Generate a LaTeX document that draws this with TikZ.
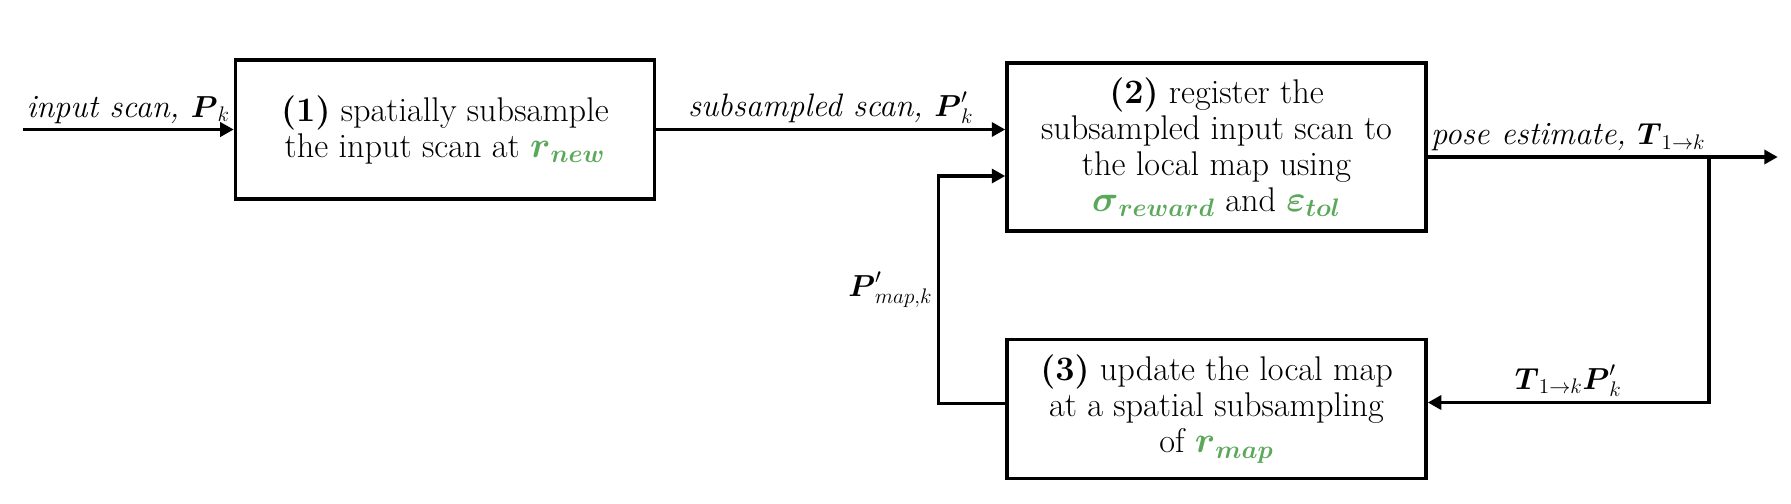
\documentclass[tikz,border=0pt]{standalone}
\usepackage{amsmath}
\usepackage{amssymb}
\usetikzlibrary{arrows.meta, positioning, calc}
\definecolor{param_green}{HTML}{5BA85B}
\colorlet{paramgreen}{param_green}
\newcommand{\prm}[1]{\textcolor{paramgreen}{\boldsymbol{#1}}}
\tikzset{
  stepbox/.style={rectangle,draw=black,line width=2pt,align=center,minimum width=8.38cm,minimum height=2.78cm,inner sep=0pt,font=\fontsize{19.5}{20.5}\selectfont},
  flow/.style={line width=2pt,-{Triangle[length=0.27cm,width=0.28cm]},black,font=\itshape\fontsize{18.5}{21}\selectfont},
  flowlabel/.style={inner sep=.08cm},
}

\begin{document}
\begin{tikzpicture}
	    \useasboundingbox (0,0) rectangle (35.82,-10.06);
	    \node[stepbox] (box1) at (8.90,-2.59) {\textbf{(1)} spatially subsample\\the input scan at $\prm{r}_{\prm{new}}$};
	    \node[stepbox,minimum height=3.36cm,right=6.98cm of box1.north east,anchor=north west,yshift=-0.06cm] (box2) {\textbf{(2)} register the\\subsampled input scan to\\the local map using\\$\prm{\sigma}_{\prm{reward}}$ and $\prm{\varepsilon}_{\prm{tol}}$};
	    \node[stepbox,below=2.1cm of box2] (box3) {\textbf{(3)} update the local map\\at a spatial subsampling\\of $\prm{r}_{\prm{map}}$};
	    \coordinate[left=4.22cm of box1.west] (inp);
	    \coordinate (split) at ($(box2.east)+(5.62,-0.2)$);
	    \coordinate (out) at ($(split)+(1.38,0)$);
	    \draw[flow] (inp) -- node[flowlabel,above] {input scan, $\boldsymbol{P}_k$} (box1.west);
	    \draw[flow] (box1.east) -- node[flowlabel,above] {subsampled scan, $\boldsymbol{P}'_k$} (box1.east -| box2.west);
	    \draw[flow] (split -| box2.east) -- node[flowlabel,above] {pose estimate, $\boldsymbol{T}_{1\rightarrow k}$} (split) -- (out);
	    \draw[flow] (split) |- node[flowlabel,pos=0.75,above] {$\boldsymbol{T}_{1\rightarrow k}\boldsymbol{P}'_k$} ($(box3.east)+(0,0.13)$);
	    \draw[flow] ($(box3.west)+(0,0.11)$) -| node[flowlabel,pos=0.75,left] {$\boldsymbol{P}'_{map,k}$} ($(box2.west)+(-1.34,-0.58)$) -- ($(box2.west)+(0,-0.58)$);
	\end{tikzpicture}
\end{document}
